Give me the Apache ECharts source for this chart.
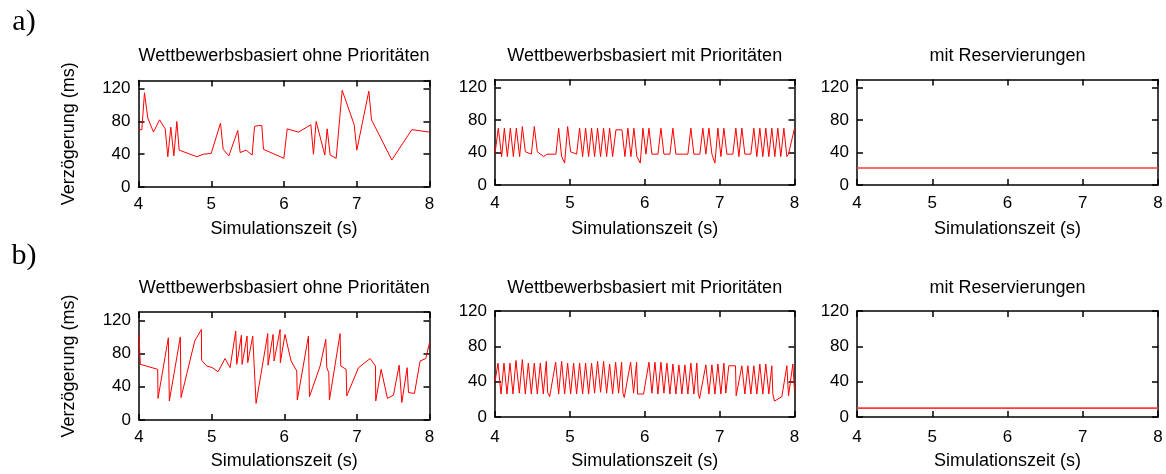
<!DOCTYPE html>
<html>
<head>
<meta charset="utf-8">
<script src="https://cdn.jsdelivr.net/npm/echarts@6/dist/echarts.min.js"></script>
<style>html,body{margin:0;padding:0;background:#fff}#c{width:1166px;height:474px}</style>
</head>
<body>
<div id="c"></div>
<script>
// ---------- data ----------
const panelTitles = ['Wettbewerbsbasiert ohne Prioritäten', 'Wettbewerbsbasiert mit Prioritäten', 'mit Reservierungen'];
const rowLabels = ['a)', 'b)'];
const xName = 'Simulationszeit (s)';
const yName = 'Verzögerung (ms)';
const xTicks = [4, 5, 6, 7, 8];
const yTicks = [0, 40, 80, 120];

// a) ohne Prioritäten
const a1X = [4.0, 4.046, 4.082, 4.128, 4.206, 4.289, 4.367, 4.403, 4.444, 4.486, 4.527, 4.559, 4.802, 4.893, 4.999, 5.127, 5.164, 5.242, 5.365, 5.397, 5.480, 5.562, 5.595, 5.650, 5.695, 5.718, 5.998, 6.044, 6.199, 6.369, 6.405, 6.442, 6.561, 6.593, 6.635, 6.717, 6.800, 6.965, 7.001, 7.166, 7.203, 7.482, 7.757, 8.0];
const a1Y = [70, 70, 115, 84, 67, 82, 71, 37, 73, 38, 80, 45, 37, 40, 41, 78, 46, 38, 69, 42, 45, 39, 74, 75, 75, 46, 35, 71, 67, 76, 40, 80, 39, 71, 39, 35, 118, 76, 45, 117, 82, 33, 70, 67];

// a) mit Prioritäten
const a2X = [4.000, 4.044, 4.089, 4.125, 4.165, 4.205, 4.245, 4.285, 4.329, 4.365, 4.405, 4.485, 4.525, 4.565, 4.650, 4.694, 4.814, 4.850, 4.890, 4.930, 4.970, 5.010, 5.090, 5.130, 5.170, 5.210, 5.250, 5.290, 5.330, 5.370, 5.410, 5.450, 5.491, 5.531, 5.571, 5.615, 5.695, 5.735, 5.775, 5.815, 5.855, 5.895, 5.940, 5.976, 6.016, 6.056, 6.096, 6.176, 6.216, 6.256, 6.336, 6.376, 6.416, 6.576, 6.616, 6.656, 6.736, 6.776, 6.816, 6.857, 6.897, 6.937, 6.977, 7.017, 7.057, 7.097, 7.177, 7.217, 7.257, 7.297, 7.337, 7.417, 7.457, 7.497, 7.537, 7.577, 7.617, 7.657, 7.697, 7.737, 7.777, 7.817, 7.858, 7.898, 7.920, 8.000];
const a2Y = [39, 70, 35, 70, 35, 70, 35, 70, 35, 72, 41, 38, 72, 41, 35, 38, 38, 70, 35, 27, 72, 41, 38, 70, 35, 70, 35, 70, 35, 70, 35, 70, 35, 70, 35, 68, 68, 35, 70, 35, 70, 35, 27, 70, 38, 70, 38, 38, 70, 38, 38, 70, 38, 38, 70, 38, 38, 70, 38, 70, 38, 27, 70, 35, 70, 38, 38, 70, 35, 70, 38, 38, 70, 35, 70, 35, 70, 35, 70, 35, 70, 35, 70, 35, 38, 70];

// a) mit Reservierungen
const a3X = [4.0, 8.0];
const a3Y = [21, 21];

// b) ohne Prioritäten
const b1X = [4.0, 4.018, 4.257, 4.262, 4.404, 4.418, 4.569, 4.579, 4.767, 4.859, 4.862, 4.932, 5.010, 5.088, 5.185, 5.254, 5.332, 5.346, 5.410, 5.419, 5.488, 5.497, 5.566, 5.612, 5.773, 5.777, 5.846, 5.860, 5.943, 5.946, 6.010, 6.094, 6.172, 6.180, 6.333, 6.347, 6.494, 6.572, 6.586, 6.613, 6.622, 6.769, 6.778, 6.852, 6.861, 7.022, 7.183, 7.256, 7.260, 7.334, 7.421, 7.504, 7.582, 7.619, 7.692, 7.711, 7.793, 7.871, 7.949, 8.0];
const b1Y = [103, 67, 61, 26, 99, 23, 100, 27, 95, 109, 72, 65, 63, 58, 74, 63, 107, 67, 102, 67, 101, 69, 101, 20, 104, 66, 103, 71, 109, 69, 103, 71, 59, 24, 101, 28, 65, 97, 63, 57, 24, 104, 65, 61, 29, 63, 74, 65, 23, 61, 26, 30, 66, 21, 63, 33, 32, 71, 74, 93];

// b) mit Prioritäten
const b2X = [4.000, 4.040, 4.080, 4.120, 4.160, 4.200, 4.240, 4.280, 4.325, 4.365, 4.405, 4.445, 4.485, 4.525, 4.565, 4.605, 4.645, 4.685, 4.703, 4.730, 4.810, 4.850, 4.890, 4.930, 4.970, 5.010, 5.050, 5.090, 5.130, 5.170, 5.210, 5.250, 5.290, 5.330, 5.370, 5.410, 5.450, 5.491, 5.531, 5.571, 5.611, 5.651, 5.691, 5.709, 5.726, 5.811, 5.851, 5.891, 5.904, 5.984, 6.056, 6.096, 6.136, 6.176, 6.216, 6.256, 6.296, 6.336, 6.376, 6.416, 6.456, 6.496, 6.536, 6.576, 6.616, 6.656, 6.696, 6.714, 6.732, 6.816, 6.857, 6.897, 6.937, 6.977, 7.017, 7.057, 7.083, 7.123, 7.212, 7.221, 7.297, 7.337, 7.377, 7.417, 7.457, 7.497, 7.537, 7.577, 7.617, 7.657, 7.697, 7.711, 7.733, 7.831, 7.898, 7.920, 7.978, 8.000];
const b2Y = [40, 61, 26, 61, 26, 61, 26, 64, 27, 65, 26, 61, 26, 61, 26, 61, 26, 63, 28, 23, 62, 26, 63, 26, 61, 26, 61, 26, 61, 26, 61, 26, 61, 27, 63, 28, 63, 27, 60, 26, 62, 27, 62, 27, 22, 62, 27, 62, 26, 26, 62, 27, 62, 26, 62, 27, 61, 26, 60, 26, 59, 26, 59, 26, 61, 26, 61, 27, 21, 59, 26, 59, 26, 60, 26, 61, 27, 58, 58, 24, 58, 26, 58, 26, 58, 26, 60, 26, 60, 26, 58, 26, 18, 23, 58, 24, 60, 30];

// b) mit Reservierungen
const b3X = [4.0, 8.0];
const b3Y = [10, 10];

// ---------- layout ----------
const FONT = '"Liberation Sans", Arial, sans-serif';
const grids = [
  {left: 138.5, top: 80.5, width: 291, height: 106.5},
  {left: 495, top: 79.5, width: 299.5, height: 105.5},
  {left: 857, top: 79.5, width: 301, height: 105.5},
  {left: 139, top: 312, width: 290.5, height: 108},
  {left: 495, top: 311, width: 299.5, height: 106},
  {left: 857, top: 311, width: 301, height: 106}
];
const yMaxes = [130, 130, 130, 130, 120, 120];
const xLabelMargins = [9, 10, 10, 9, 12, 12];
const panels = [[a1X, a1Y], [a2X, a2Y], [a3X, a3Y], [b1X, b1Y], [b2X, b2Y], [b3X, b3Y]];

const lineSt = {color: '#000', width: 1.5};
const xAxes = [], yAxes = [], series = [], graphics = [];

grids.forEach((g, i) => {
  const baseX = {
    type: 'value', gridIndex: i, min: xTicks[0], max: xTicks[xTicks.length - 1], interval: 1,
    axisLine: {show: true, onZero: false, lineStyle: lineSt},
    axisTick: {show: true, inside: true, length: 6, lineStyle: lineSt},
    splitLine: {show: false}
  };
  xAxes.push(Object.assign({}, baseX, {position: 'bottom',
    axisLabel: {show: true, margin: xLabelMargins[i], fontSize: 17, color: '#000', fontFamily: FONT}}));
  xAxes.push(Object.assign({}, baseX, {position: 'top', axisLabel: {show: false}}));
  const baseY = {
    type: 'value', gridIndex: i, min: yTicks[0], max: yMaxes[i], interval: 40,
    axisLine: {show: true, onZero: false, lineStyle: lineSt},
    axisTick: {show: true, inside: true, length: 6, lineStyle: lineSt},
    splitLine: {show: false}
  };
  yAxes.push(Object.assign({}, baseY, {position: 'left',
    axisLabel: {show: true, margin: 8, fontSize: 17, color: '#000', fontFamily: FONT,
      showMaxLabel: yMaxes[i] === 120}}));
  yAxes.push(Object.assign({}, baseY, {position: 'right', axisLabel: {show: false}}));

  const [xs, ys] = panels[i];
  const flat = (i % 3) === 2;
  series.push({
    type: 'line', xAxisIndex: i * 2, yAxisIndex: i * 2,
    data: xs.map((x, k) => [x, ys[k]]),
    showSymbol: false, symbol: 'none', animation: false,
    lineStyle: {color: flat ? '#ff3a3a' : '#ff0000', width: flat ? 1.6 : 1},
    clip: true
  });

  // title
  graphics.push({type: 'text', x: g.left + g.width / 2, y: i < 3 ? 56 : 288,
    style: {text: panelTitles[i % 3], align: 'center', verticalAlign: 'middle', font: '18px ' + FONT, fill: '#000'}});
  // x name
  graphics.push({type: 'text', x: g.left + g.width / 2, y: i < 3 ? 229 : 461,
    style: {text: xName, align: 'center', verticalAlign: 'middle', font: '18px ' + FONT, fill: '#000'}});
});

// y names (first column only)
[0, 3].forEach(i => {
  const g = grids[i];
  graphics.push({type: 'text', x: 69, y: g.top + g.height / 2, rotation: Math.PI / 2,
    style: {text: yName, align: 'center', verticalAlign: 'middle', font: '18px ' + FONT, fill: '#000'}});
});
// row labels
graphics.push({type: 'text', x: 24, y: 22, style: {text: rowLabels[0], align: 'center', verticalAlign: 'middle', font: '30px "Liberation Serif", serif', fill: '#000'}});
graphics.push({type: 'text', x: 24, y: 256, style: {text: rowLabels[1], align: 'center', verticalAlign: 'middle', font: '30px "Liberation Serif", serif', fill: '#000'}});

const chart = echarts.init(document.getElementById('c'), null, {renderer: 'canvas'});
chart.setOption({
  backgroundColor: '#fff',
  animation: false,
  grid: grids.map(g => Object.assign({containLabel: false}, g)),
  xAxis: xAxes,
  yAxis: yAxes,
  series: series,
  graphic: graphics
});
</script>
</body>
</html>
